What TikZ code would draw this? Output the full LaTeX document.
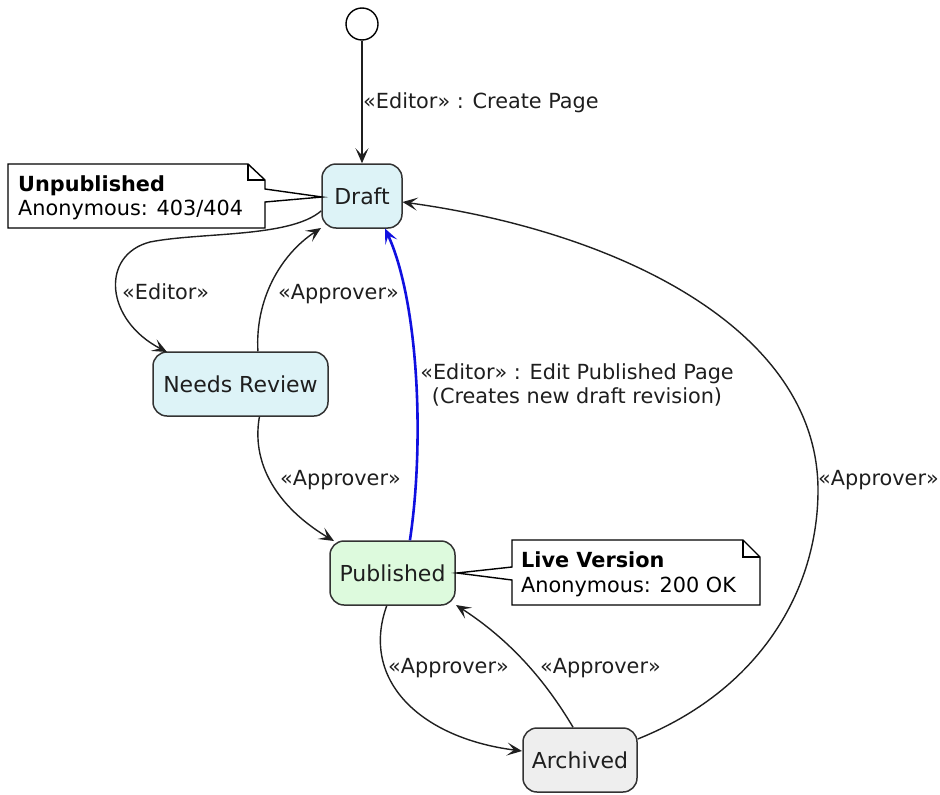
\documentclass[tikz,border=0pt]{standalone}
\usepackage{fontspec}
\setmainfont{DejaVu Sans}
\usetikzlibrary{arrows.meta}
\definecolor{stborder}{HTML}{333333}
\definecolor{draftfill}{HTML}{DDF3F7}
\definecolor{pubfill}{HTML}{DDFADD}
\definecolor{archfill}{HTML}{EEEEEE}
\definecolor{txt}{HTML}{1E1E1E}
\definecolor{blueline}{HTML}{1010E0}
\tikzset{
  state/.style={draw=stborder, line width=1.5pt, rounded corners=14pt, minimum height=64pt, inner sep=0pt, text=txt, font=\fontsize{22}{26}\selectfont},
  lbl/.style={anchor=base west, inner sep=0pt, text=txt, font=\fontsize{20.8}{24}\selectfont},
  notetxt/.style={anchor=base west, inner sep=0pt, text=black, font=\fontsize{20.8}{24}\selectfont},
  notebox/.style={draw=black, line width=1.4pt, fill=white},
  tr/.style={draw=black!88, line width=1.4pt, -{Stealth[length=15pt, width=13pt, inset=7pt]}},
  nl/.style={draw=black, line width=1.4pt}
}
\begin{document}
\begin{tikzpicture}[x=1pt, y=-1pt]
\useasboundingbox (0,0) rectangle (940,795);
% initial
\node[circle, draw=black, line width=1.4pt, fill=white, minimum size=32pt, inner sep=0pt] (init) at (362,24) {};
% states
\node[state, fill=draftfill, minimum width=80pt] (draft) at (362,196) {Draft};
\node[state, fill=draftfill, minimum width=175pt] (review) at (240.5,384) {Needs Review};
\node[state, fill=pubfill, minimum width=125pt] (pub) at (392.5,573) {Published};
\node[state, fill=archfill, minimum width=114pt] (arch) at (580,760) {Archived};

% note Unpublished
\coordinate (n1tip) at (322,197);
\draw[notebox] (8,164) -- (248,164) -- (265,180) -- (265,189) -- (n1tip) -- (265,202) -- (265,228) -- (8,228) -- cycle;
\draw[nl] (248,164) -- (248,180) -- (265,180);
\node[notetxt, font=\fontsize{20.8}{24}\selectfont\bfseries] (n1a) at (18,191) {Unpublished};
\node[notetxt] (n1b) at (18,215) {Anonymous: 403/404};

% note Live Version
\coordinate (n2tip) at (457,573);
\draw[notebox] (512,540) -- (743,540) -- (760,557) -- (760,605) -- (512,605) -- (512,580) -- (n2tip) -- (512,567) -- cycle;
\draw[nl] (743,540) -- (743,557) -- (760,557);
\node[notetxt, font=\fontsize{20.8}{24}\selectfont\bfseries] (n2a) at (521,567) {Live Version};
\node[notetxt] (n2b) at (521,592) {Anonymous: 200 OK};

% transitions
\draw[tr] (init) -- (draft);
\node[lbl] (l1) at (363,108) {«Editor» : Create Page};

\draw[tr] (draft.200) .. controls (290,238) and (200,232) .. (150,242) .. controls (100,255) and (105,320) .. (167,352);
\node[lbl] (l2) at (122,299) {«Editor»};

\draw[tr] (review.62) .. controls (255,300) and (280,255) .. (321,228);
\node[lbl] (l3) at (278,299) {«Approver»};

\draw[tr] (review.-60) .. controls (250,470) and (285,512) .. (334,541);
\node[lbl] (l4) at (280,485) {«Approver»};

\draw[tr, draw=blueline, line width=2.6pt] (pub.62) .. controls (425,440) and (418,300) .. (385,228.5);
\node[lbl, anchor=center, align=center] (l5) at (577,385) {«Editor» : Edit Published Page\\(Creates new draft revision)};

\draw[tr] (arch.20) .. controls (760,690) and (818,590) .. (818,490) .. controls (818,330) and (620,232) .. (402.5,202);
\node[lbl] (l6) at (818,485) {«Approver»};

\draw[tr] (pub.-100) .. controls (360,680) and (420,738) .. (522,751);
\node[lbl] (l7) at (388,673) {«Approver»};

\draw[tr] (arch.102) .. controls (545,680) and (510,640) .. (456,605);
\node[lbl] (l8) at (540,673) {«Approver»};
\end{tikzpicture}
\end{document}
